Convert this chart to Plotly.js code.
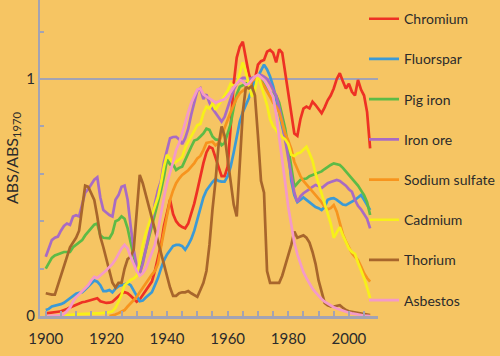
<!DOCTYPE html>
<html>
<head>
<meta charset="utf-8">
<script src="https://cdn.plot.ly/plotly-3.0.1.min.js"></script>
<style>html,body{margin:0;padding:0;background:#F6C563;}#chart{width:500px;height:356px;}</style>
</head>
<body>
<div id="chart"></div>
<script>
const years = [
1900,1901,1902,1903,1904,1905,1906,1907,1908,1909,
1910,1911,1912,1913,1914,1915,1916,1917,1918,1919,
1920,1921,1922,1923,1924,1925,1926,1927,1928,1929,
1930,1931,1932,1933,1934,1935,1936,1937,1938,1939,
1940,1941,1942,1943,1944,1945,1946,1947,1948,1949,
1950,1951,1952,1953,1954,1955,1956,1957,1958,1959,
1960,1961,1962,1963,1964,1965,1966,1967,1968,1969,
1970,1971,1972,1973,1974,1975,1976,1977,1978,1979,
1980,1981,1982,1983,1984,1985,1986,1987,1988,1989,
1990,1991,1992,1993,1994,1995,1996,1997,1998,1999,
2000,2001,2002,2003,2004,2005,2006,2007];

const chromium = [
0.011,0.012,0.014,0.016,0.018,0.02,0.024,0.03,0.036,0.042,
0.048,0.054,0.058,0.06,0.064,0.068,0.072,0.075,0.062,0.058,
0.055,0.056,0.06,0.072,0.085,0.095,0.1,0.096,0.085,0.072,
0.06,0.07,0.09,0.11,0.125,0.145,0.19,0.24,0.3,0.38,
0.44,0.49,0.43,0.4,0.384,0.375,0.37,0.39,0.433,0.475,
0.53,0.59,0.645,0.69,0.714,0.707,0.67,0.63,0.59,0.59,
0.63,0.8,0.98,1.09,1.136,1.157,1.094,1.02,0.98,1.0,
1.06,1.075,1.08,1.115,1.122,1.11,1.07,1.125,1.11,1.02,
0.93,0.84,0.77,0.76,0.83,0.875,0.883,0.876,0.904,0.89,
0.87,0.855,0.88,0.91,0.93,0.96,1.0,1.024,0.99,0.96,
0.98,0.946,0.93,0.996,0.955,0.93,0.86,0.707];

const fluorspar = [
0.025,0.03,0.04,0.043,0.046,0.05,0.056,0.065,0.075,0.085,
0.094,0.098,0.1,0.112,0.124,0.136,0.15,0.145,0.13,0.105,
0.105,0.11,0.1,0.115,0.126,0.13,0.135,0.138,0.13,0.11,
0.085,0.062,0.065,0.078,0.09,0.1,0.13,0.16,0.2,0.235,
0.26,0.28,0.295,0.3,0.3,0.295,0.28,0.3,0.325,0.36,
0.41,0.46,0.5,0.53,0.55,0.565,0.578,0.57,0.567,0.567,
0.59,0.63,0.69,0.75,0.82,0.86,0.89,0.92,0.96,0.99,
1.01,1.038,1.06,1.04,1.01,0.97,0.92,0.86,0.8,0.75,
0.7,0.57,0.51,0.48,0.49,0.5,0.49,0.48,0.47,0.46,
0.455,0.447,0.46,0.49,0.495,0.497,0.49,0.48,0.47,0.468,
0.475,0.48,0.49,0.5,0.51,0.49,0.468,0.447];

const pigIron = [
0.2,0.225,0.245,0.255,0.26,0.264,0.27,0.27,0.27,0.29,
0.3,0.307,0.32,0.34,0.356,0.37,0.385,0.39,0.34,0.33,
0.328,0.328,0.35,0.4,0.405,0.42,0.41,0.37,0.31,0.25,
0.2,0.18,0.23,0.28,0.33,0.38,0.43,0.47,0.53,0.59,
0.66,0.64,0.64,0.616,0.625,0.63,0.66,0.69,0.714,0.74,
0.745,0.757,0.77,0.79,0.785,0.757,0.745,0.743,0.72,0.73,
0.77,0.81,0.88,0.935,0.967,0.975,0.98,0.985,0.995,1.005,
1.01,0.995,0.98,0.96,0.945,0.94,0.93,0.9,0.85,0.79,
0.71,0.62,0.545,0.56,0.574,0.578,0.58,0.59,0.595,0.6,
0.605,0.61,0.62,0.63,0.637,0.644,0.642,0.637,0.625,0.61,
0.595,0.58,0.565,0.55,0.53,0.51,0.48,0.426];

const ironOre = [
0.25,0.29,0.32,0.33,0.335,0.36,0.38,0.39,0.384,0.42,
0.425,0.42,0.47,0.52,0.535,0.555,0.575,0.585,0.5,0.447,
0.435,0.426,0.42,0.49,0.51,0.545,0.55,0.49,0.38,0.28,
0.21,0.18,0.22,0.28,0.33,0.4,0.475,0.53,0.57,0.65,
0.7,0.75,0.755,0.756,0.745,0.725,0.75,0.79,0.85,0.9,
0.95,0.96,0.915,0.935,0.9,0.875,0.855,0.835,0.82,0.84,
0.88,0.92,0.955,0.98,0.996,1.005,1.005,1.0,1.005,1.01,
1.015,1.017,1.01,1.0,0.98,0.955,0.93,0.88,0.82,0.74,
0.66,0.58,0.52,0.48,0.505,0.518,0.525,0.535,0.545,0.553,
0.548,0.54,0.55,0.56,0.565,0.57,0.574,0.57,0.56,0.55,
0.535,0.524,0.49,0.465,0.45,0.43,0.41,0.37];

const sodiumSulfate = [
null,null,null,null,null,null,null,null,null,null,
null,null,null,null,null,null,null,null,null,null,
null,0.0,0.002,0.006,0.012,0.018,0.025,0.04,0.054,0.068,
0.081,0.1,0.12,0.135,0.155,0.175,0.19,0.22,0.29,0.36,
0.43,0.49,0.53,0.56,0.58,0.595,0.605,0.615,0.63,0.645,
0.665,0.675,0.7,0.73,0.733,0.735,0.72,0.73,0.76,0.795,
0.83,0.86,0.89,0.92,0.94,0.95,0.96,0.97,0.99,1.0,
1.0,0.99,0.97,0.95,0.925,0.9,0.885,0.86,0.81,0.77,
0.74,0.705,0.65,0.62,0.59,0.57,0.555,0.54,0.528,0.51,
0.497,0.48,0.46,0.45,0.455,0.468,0.44,0.39,0.345,0.315,
0.29,0.265,0.25,0.236,0.21,0.18,0.16,0.145];

const cadmium = [
null,null,null,null,null,null,0.002,0.004,0.005,0.006,
0.007,0.008,0.009,0.01,0.011,0.011,0.011,0.011,0.011,0.012,
0.013,0.016,0.02,0.035,0.06,0.09,0.13,0.142,0.152,0.158,
0.17,0.23,0.3,0.35,0.39,0.42,0.47,0.5,0.56,0.63,
0.68,0.66,0.645,0.65,0.66,0.67,0.71,0.735,0.757,0.785,
0.805,0.81,0.855,0.883,0.875,0.897,0.87,0.89,0.91,0.93,
0.95,0.98,0.97,0.98,1.02,1.07,1.03,0.98,0.925,0.955,
1.02,0.975,0.93,0.89,0.83,0.8,0.785,0.765,0.755,0.745,
0.725,0.68,0.675,0.686,0.69,0.7,0.714,0.686,0.655,0.6,
0.56,0.518,0.47,0.43,0.39,0.33,0.35,0.375,0.34,0.31,
0.285,0.27,0.262,0.225,0.195,0.16,0.12,0.075];

const thorium = [
0.096,0.092,0.09,0.09,0.13,0.17,0.21,0.25,0.29,0.31,
0.33,0.36,0.45,0.55,0.545,0.52,0.49,0.42,0.335,0.29,
0.24,0.19,0.14,0.12,0.14,0.14,0.2,0.24,0.25,0.28,
0.45,0.595,0.56,0.51,0.47,0.42,0.36,0.31,0.26,0.21,
0.17,0.12,0.085,0.085,0.096,0.1,0.1,0.105,0.096,0.09,
0.081,0.11,0.14,0.19,0.3,0.45,0.57,0.72,0.8,0.76,
0.66,0.56,0.47,0.42,0.62,0.86,0.965,0.96,0.97,0.93,
0.76,0.57,0.52,0.19,0.14,0.14,0.14,0.14,0.17,0.21,
0.26,0.3,0.356,0.33,0.335,0.34,0.33,0.31,0.27,0.22,
0.15,0.1,0.055,0.045,0.04,0.04,0.042,0.046,0.035,0.025,
0.02,0.018,0.015,0.011,0.01,0.01,0.008,0.004];

const asbestos = [
0.0,0.0,0.0,0.0,0.0,0.003,0.008,0.02,0.035,0.06,
0.08,0.092,0.105,0.117,0.13,0.15,0.165,0.16,0.17,0.18,
0.193,0.207,0.22,0.238,0.26,0.285,0.3,0.285,0.25,0.218,
0.19,0.17,0.18,0.2,0.235,0.27,0.3,0.36,0.44,0.5,
0.56,0.6,0.65,0.7,0.73,0.77,0.82,0.86,0.9,0.93,
0.955,0.96,0.935,0.925,0.918,0.91,0.9,0.904,0.91,0.915,
0.93,0.945,0.965,0.98,0.996,0.99,0.975,0.98,0.995,1.01,
1.017,1.005,0.996,0.975,0.95,0.925,0.85,0.76,0.67,0.56,
0.46,0.38,0.31,0.26,0.22,0.185,0.16,0.135,0.115,0.1,
0.085,0.072,0.06,0.052,0.045,0.037,0.032,0.027,0.022,0.018,
0.014,0.011,0.008,0.005,0.003,0.002,0.001,0.0];

const seriesNames = ['Chromium','Fluorspar','Pig iron','Iron ore','Sodium sulfate','Cadmium','Thorium','Asbestos'];
const seriesValues = [chromium, fluorspar, pigIron, ironOre, sodiumSulfate, cadmium, thorium, asbestos];
const seriesColors = ['#EE3124','#3B9AD6','#5DBB46','#A86BC4','#F7941E','#F7F01A','#A8662C','#F49AC8'];

const xTickLabels = ['1900','1920','1940','1960','1980','2000'];
const yTickLabels = ['0','1'];

const traces = seriesNames.map((name, i) => ({
  type: 'scatter', mode: 'lines', name: name,
  x: years, y: seriesValues[i],
  legendgroup: 'g' + i,
  connectgaps: false,
  line: {color: seriesColors[i], width: 2.7}
}));

const axisCol = '#A3A3B3';
const layout = {
  width: 500, height: 356,
  paper_bgcolor: '#F6C563', plot_bgcolor: '#F6C563',
  margin: {l: 40, r: 113, t: 0, b: 40, pad: 0},
  font: {family: 'Lato, "Open Sans", sans-serif', color: '#2b2b2b', size: 14},
  showlegend: true,
  xaxis: {
    range: [1898.1, 2009.6],
    tickmode: 'array', tickvals: xTickLabels.map(Number), ticktext: xTickLabels,
    ticks: 'inside', ticklen: 5, tickwidth: 2, tickcolor: axisCol,
    minor: {dtick: 5, tick0: 1900, ticks: 'inside', ticklen: 5, tickwidth: 2, tickcolor: axisCol},
    showline: true, linecolor: axisCol, linewidth: 3,
    showgrid: false, zeroline: false,
    ticklabelstandoff: 7,
    tickfont: {size: 15, color: '#2b2b2b'}
  },
  yaxis: {
    range: [0, 1.333],
    tickmode: 'array', tickvals: yTickLabels.map(Number), ticktext: yTickLabels,
    ticks: 'inside', ticklen: 4, tickwidth: 2, tickcolor: axisCol,
    minor: {dtick: 0.2, tick0: 0, ticks: 'inside', ticklen: 4, tickwidth: 2, tickcolor: axisCol, showgrid: false},
    showline: true, linecolor: axisCol, linewidth: 2,
    showgrid: true, gridcolor: axisCol, gridwidth: 2,
    zeroline: false,
    tickfont: {size: 15, color: '#2b2b2b'},
    title: {text: 'ABS/ABS<sub>1970</sub>', font: {size: 16, color: '#2b2b2b'}, standoff: 4}
  },
  legend: {
    x: 0.959, xanchor: 'left', y: 0.99, yanchor: 'top',
    bgcolor: 'rgba(0,0,0,0)', borderwidth: 0,
    font: {size: 14, color: '#2b2b2b'},
    traceorder: 'grouped', tracegroupgap: 19
  }
};

Plotly.newPlot('chart', traces, layout, {displayModeBar: false, staticPlot: true});
</script>
</body>
</html>
